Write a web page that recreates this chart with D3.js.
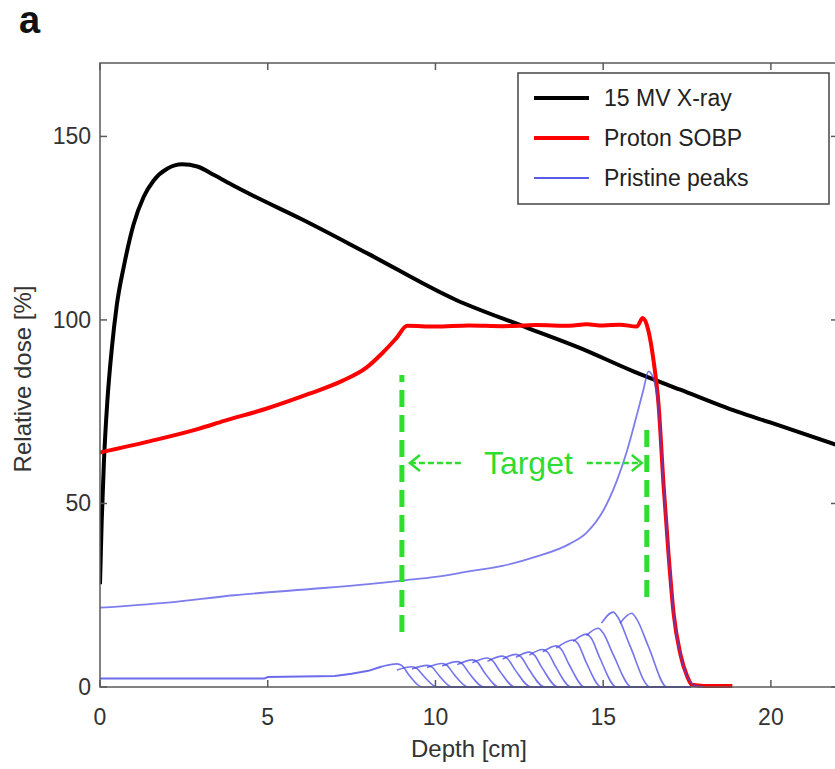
<!DOCTYPE html>
<html>
<head>
<meta charset="utf-8">
<script src="https://cdn.jsdelivr.net/npm/d3@7"></script>
<style>
  body { margin: 0; background: #fff; }
  text { font-family: Arial, "Liberation Sans", sans-serif; }
</style>
</head>
<body>
<div id="chart"></div>
<script>
// depth [cm] / relative dose [%]
const xray = [[0,28],[0.05,45],[0.12,62],[0.22,78],[0.35,92],[0.5,104],[0.72,115],[1.0,126],
  [1.3,133.5],[1.6,138],[2.0,141.2],[2.45,142.4],[2.9,141.8],[3.4,139.5],[4.0,136.5],
  [4.6,133.7],[6,127.5],[8,118],[10.6,105.5],[12.7,98],[14.3,92.4],[15.9,86],[17.3,81],
  [19,75],[20,72],[22,65.8]];

const sobp = [[0,63.9],[1.5,67],[2.96,70.4],[3.7,72.5],[4.95,75.8],[6.24,79.9],[7.22,83.4],
  [7.94,87],[8.42,91],[8.83,95],[9.16,98.4],[10,98.2],[11,98.5],[12,98.3],[13,98.6],
  [14,98.4],[14.5,98.8],[15,98.5],[15.5,98.7],[16.0,98.2],[16.18,100.5],[16.35,97],
  [16.5,89],[16.65,77],[16.8,55],[16.95,36],[17.1,20],[17.3,9],[17.5,3],[17.65,0.6],
  [18.0,0.3],[18.85,0.3]];

const pristineDistal = [[0,21.6],[2,23],[4,25],[6,26.5],[8,28],[9,29],[10,30],[11,31.5],
  [12,33],[13,35.5],[14,39],[14.5,42],[15,48],[15.4,56],[15.7,64],[16.0,74],[16.2,81],
  [16.35,86],[16.5,84],[16.65,76],[16.8,55],[16.95,36],[17.1,20],[17.3,9],[17.5,3],
  [17.7,0.5],[18,0]];

// entrance part shared by the small peaks
const pristineBase = [[0,2.3],[4.9,2.3],[5.0,2.7],[7.0,3.0],[7.5,3.6],[8.0,4.4],[8.4,5.6]];

const pristineSmall = [
  [[8.4,5.6],[8.85,6.3],[9.0,5.8],[9.2,3.4],[9.6,0],[17.6,0]],
  [[8.85,4.6],[9.3,5.5],[9.45,5.0],[9.65,3.0],[10.05,0],[17.6,0]],
  [[9.3,4.9],[9.75,5.9],[9.9,5.4],[10.1,3.2],[10.5,0],[17.6,0]],
  [[9.75,5.3],[10.2,6.4],[10.35,5.8],[10.55,3.5],[10.98,0],[17.6,0]],
  [[10.2,5.7],[10.65,6.9],[10.8,6.3],[11.0,3.8],[11.45,0],[17.6,0]],
  [[10.65,6.1],[11.1,7.4],[11.25,6.8],[11.45,4.1],[11.9,0],[17.6,0]],
  [[11.1,6.6],[11.55,7.9],[11.7,7.2],[11.92,4.3],[12.37,0],[17.6,0]],
  [[11.55,7.0],[12.0,8.4],[12.15,7.7],[12.38,4.6],[12.85,0],[17.6,0]],
  [[12.0,7.6],[12.4,8.9],[12.55,8.2],[12.78,4.9],[13.25,0],[17.6,0]],
  [[12.4,8.1],[12.8,9.5],[12.95,8.7],[13.18,5.2],[13.65,0],[17.6,0]],
  [[12.8,8.7],[13.2,10.2],[13.35,9.4],[13.58,5.6],[14.05,0],[17.6,0]],
  [[13.2,9.6],[13.6,11.2],[13.75,10.3],[13.98,6.2],[14.45,0],[17.6,0]],
  [[13.6,10.6],[14.1,12.8],[14.25,11.8],[14.48,7.0],[14.95,0],[17.6,0]],
  [[14.1,12.4],[14.5,14.4],[14.65,13.2],[14.9,7.9],[15.4,0],[17.6,0]],
  [[14.5,14.0],[14.85,16.0],[15.0,14.7],[15.3,8.8],[15.85,0],[17.6,0]],
  [[14.95,17.4],[15.3,20.4],[15.45,18.8],[15.8,11.2],[16.4,0],[17.6,0]],
  [[15.5,17.4],[15.85,20.1],[16.0,18.5],[16.35,11.0],[16.9,0],[17.6,0]]
];

const target = { from: 9.0, to: 16.3, left: [15, 85], right: [24.5, 70], label: "Target", arrowAt: 61 };

const xTicks = [0, 5, 10, 15, 20];
const yTicks = [0, 50, 100, 150];
const legendItems = [
  { label: "15 MV X-ray", color: "#000000", width: 4 },
  { label: "Proton SOBP", color: "#ff0000", width: 4 },
  { label: "Pristine peaks", color: "#5a5ae8", width: 2 }
];

const W = 835, H = 769;
const margin = { top: 63, right: -3, bottom: 82, left: 100 };
const width = W - margin.left - margin.right,
  height = H - margin.top - margin.bottom;

const svg = d3.select("#chart").append("svg")
  .attr("width", W).attr("height", H)
  .style("background", "#fff");

svg.append("text").attr("x", 19).attr("y", 33)
  .attr("font-size", 38).attr("font-weight", "bold").attr("fill", "#111")
  .text("a");

const g = svg.append("g").attr("transform", "translate(" + margin.left + "," + margin.top + ")");

const x = d3.scaleLinear().domain([0, 22]).range([0, width]);
const y = d3.scaleLinear().domain([0, 170]).range([height, 0]);

g.append("clipPath").attr("id", "clip").append("rect")
  .attr("width", width).attr("height", height + 2).attr("y", -1);

const line = d3.line().x(d => x(d[0])).y(d => y(d[1]));
const smooth = d3.line().x(d => x(d[0])).y(d => y(d[1])).curve(d3.curveMonotoneX);

const plot = g.append("g").attr("clip-path", "url(#clip)");

// x-ray
plot.append("path").datum(xray).attr("d", smooth)
  .attr("fill", "none").attr("stroke", "#000").attr("stroke-width", 4);

// SOBP
plot.append("path").datum(sobp).attr("d", smooth)
  .attr("fill", "none").attr("stroke", "#ff0000").attr("stroke-width", 4)
  .attr("stroke-linejoin", "round");

// pristine peaks
const blue = "#4646e6";
plot.append("path").datum(pristineBase).attr("d", line)
  .attr("fill", "none").attr("stroke", blue).attr("stroke-width", 2).attr("stroke-opacity", 0.8);
plot.selectAll(".peak").data(pristineSmall).enter().append("path")
  .attr("class", "peak").attr("d", smooth)
  .attr("fill", "none").attr("stroke", blue).attr("stroke-width", 1.6).attr("stroke-opacity", 0.75);
plot.append("path").datum(pristineDistal).attr("d", smooth)
  .attr("fill", "none").attr("stroke", blue).attr("stroke-width", 1.8).attr("stroke-opacity", 0.7);

// target markers
const green = "#2fdc2f";
[[target.from, target.left], [target.to, target.right]].forEach(([d, r]) => {
  g.append("line")
    .attr("x1", x(d)).attr("x2", x(d)).attr("y1", y(r[0])).attr("y2", y(r[1]))
    .attr("stroke", green).attr("stroke-width", 5).attr("stroke-dasharray", "17,8");
});
const ay = y(target.arrowAt);
const tx = (x(target.from) + x(target.to)) / 2 + 4;
g.append("text").attr("x", tx).attr("y", ay + 11)
  .attr("text-anchor", "middle").attr("font-size", 32).attr("fill", green)
  .text(target.label);
const arrows = [
  { x1: x(target.from) + 8, x2: x(target.from) + 60, dir: -1 },
  { x1: x(target.to) - 60, x2: x(target.to) - 5, dir: 1 }
];
arrows.forEach(a => {
  g.append("line").attr("x1", a.x1).attr("x2", a.x2).attr("y1", ay).attr("y2", ay)
    .attr("stroke", green).attr("stroke-width", 2.5).attr("stroke-dasharray", "6,3");
  const tip = a.dir < 0 ? a.x1 : a.x2;
  g.append("path")
    .attr("d", `M${tip - a.dir * 10},${ay - 8}L${tip},${ay}L${tip - a.dir * 10},${ay + 8}`)
    .attr("fill", "none").attr("stroke", green).attr("stroke-width", 2.5);
});

// frame and ticks
const axisColor = "#5a5a5a";
g.append("rect").attr("width", width).attr("height", height)
  .attr("fill", "none").attr("stroke", axisColor).attr("stroke-width", 1.5);

const tk = 7;
xTicks.forEach(t => {
  g.append("line").attr("x1", x(t)).attr("x2", x(t)).attr("y1", height).attr("y2", height - tk)
    .attr("stroke", axisColor).attr("stroke-width", 1.5);
  g.append("line").attr("x1", x(t)).attr("x2", x(t)).attr("y1", 0).attr("y2", tk)
    .attr("stroke", axisColor).attr("stroke-width", 1.5);
  g.append("text").attr("x", x(t)).attr("y", height + 38)
    .attr("text-anchor", "middle").attr("font-size", 23).attr("fill", "#333").text(t);
});
yTicks.forEach(t => {
  g.append("line").attr("x1", 0).attr("x2", tk).attr("y1", y(t)).attr("y2", y(t))
    .attr("stroke", axisColor).attr("stroke-width", 1.5);
  g.append("line").attr("x1", width).attr("x2", width - tk).attr("y1", y(t)).attr("y2", y(t))
    .attr("stroke", axisColor).attr("stroke-width", 1.5);
  g.append("text").attr("x", -9).attr("y", y(t) + 8)
    .attr("text-anchor", "end").attr("font-size", 23).attr("fill", "#333").text(t);
});

svg.append("text").attr("x", margin.left + x(11)).attr("y", 757)
  .attr("text-anchor", "middle").attr("font-size", 24).attr("fill", "#333")
  .text("Depth [cm]");
svg.append("text")
  .attr("transform", "translate(31," + (margin.top + height / 2 + 4) + ") rotate(-90)")
  .attr("text-anchor", "middle").attr("font-size", 24).attr("fill", "#333")
  .text("Relative dose [%]");

// legend
const lg = svg.append("g").attr("transform", "translate(518,73)");
lg.append("rect").attr("width", 311).attr("height", 131)
  .attr("fill", "#fff").attr("stroke", "#444").attr("stroke-width", 1.5);
legendItems.forEach((d, i) => {
  const ly = 25 + i * 40;
  lg.append("line").attr("x1", 16).attr("x2", 71).attr("y1", ly).attr("y2", ly)
    .attr("stroke", d.color).attr("stroke-width", d.width);
  lg.append("text").attr("x", 86).attr("y", ly + 8)
    .attr("font-size", 23).attr("fill", "#222").text(d.label);
});
</script>
</body>
</html>
